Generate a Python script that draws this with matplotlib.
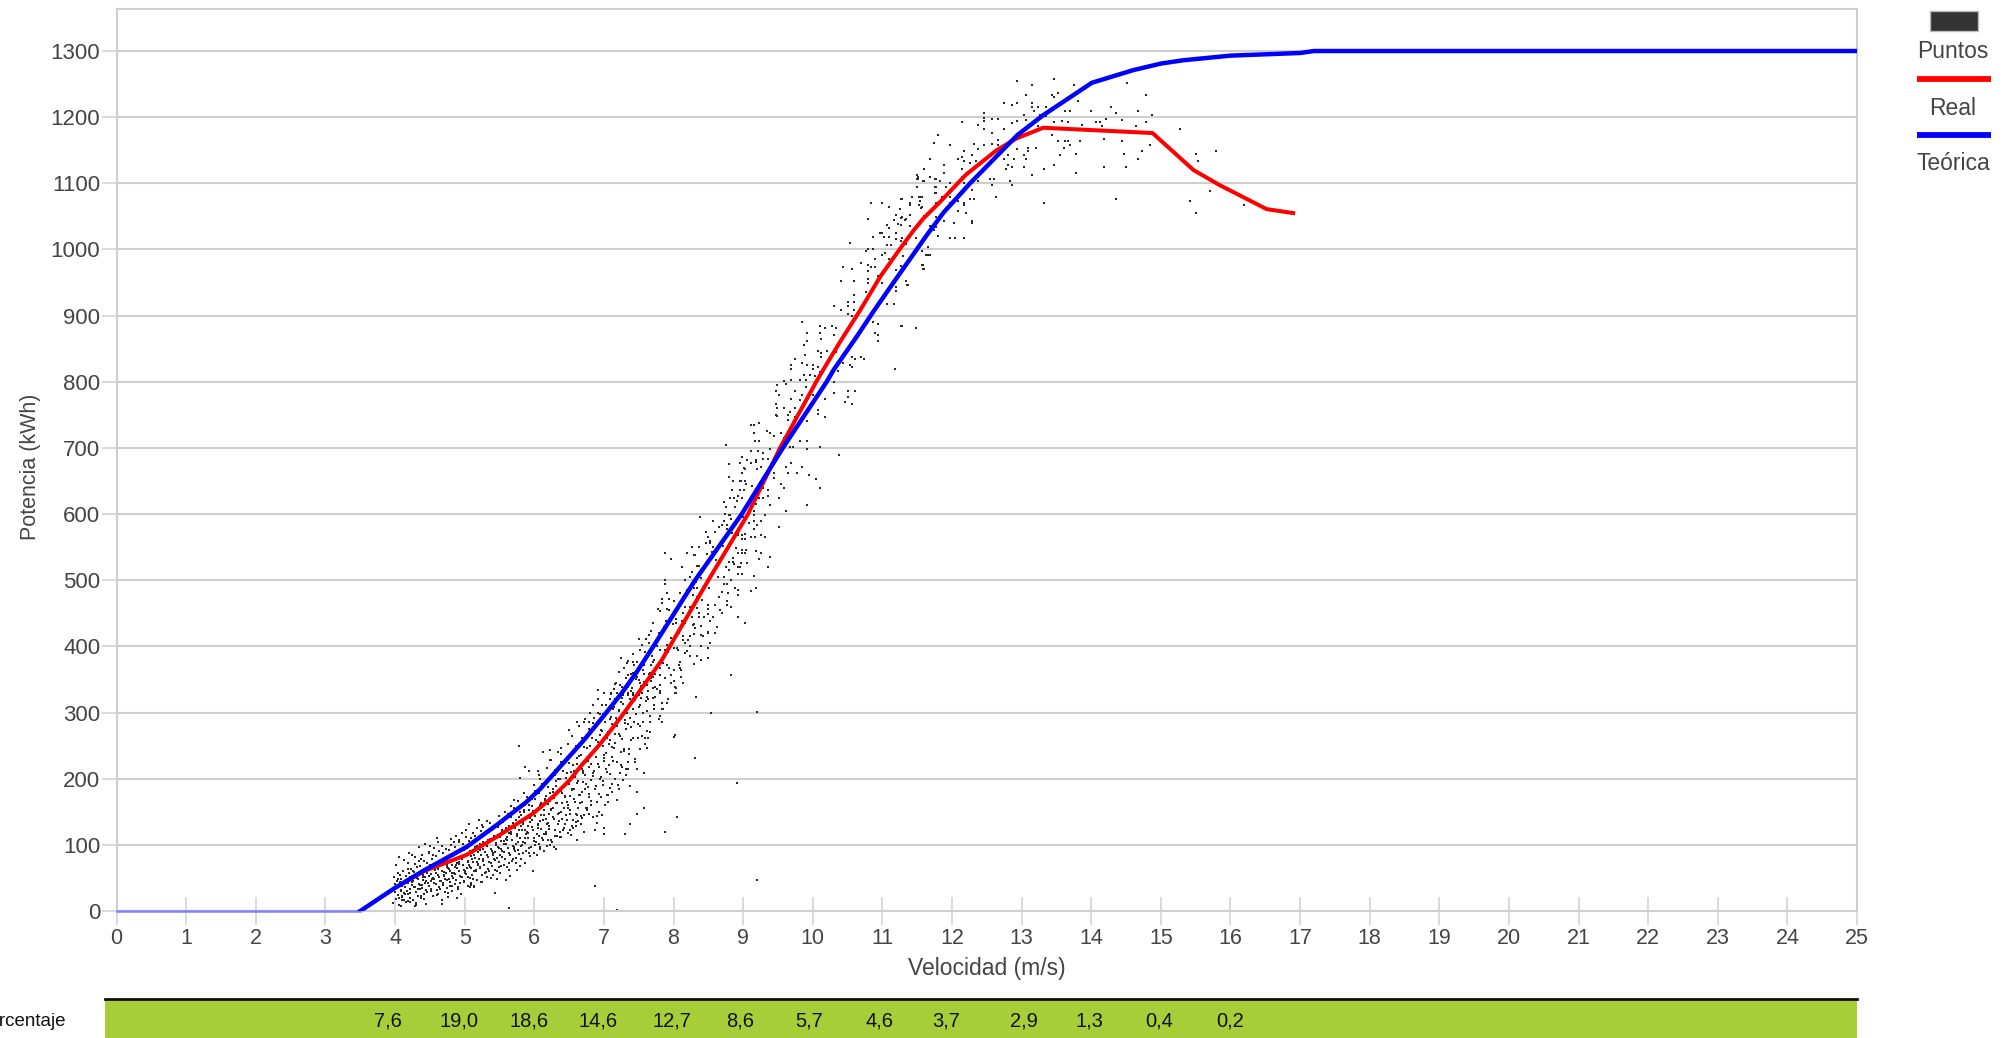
import matplotlib
matplotlib.use("Agg")
import matplotlib.pyplot as plt
from matplotlib.lines import Line2D
from matplotlib.patches import Rectangle

W, H = 2013, 1038
plt.rcParams['font.family'] = ['Liberation Sans', 'DejaVu Sans']
GRID = '#cfcfcf'
TXT = '#444444'

# curves
teorica_v = [3.5, 4.0, 4.41, 5.03, 5.46, 5.89, 6.08, 6.37, 6.71, 6.99, 7.26, 7.47, 7.71, 8.31, 8.98, 9.57, 10.2, 10.3, 10.63, 10.87, 11.16, 11.4, 11.64, 11.88, 12.26, 12.94, 13.31, 14.01, 14.6, 15, 15.32, 16, 17, 17.2, 25]
teorica_p = [0, 35, 61, 97, 130, 165, 184, 218, 258, 294, 330, 361, 400, 500, 600, 700, 800, 818, 868, 906, 950, 986, 1022, 1056, 1100, 1173, 1203, 1252, 1271, 1281, 1286, 1293, 1297, 1300, 1300]
calma_v = [0, 3.5]
calma_p = [0, 0]
real_v = [4.1, 4.41, 5.03, 5.46, 5.99, 6.27, 6.51, 6.66, 6.95, 7.23, 7.47, 7.66, 7.83, 8.5, 9.07, 9.53, 10.05, 10.15, 10.39, 10.68, 10.97, 11.26, 11.45, 11.59, 11.83, 12.2, 12.64, 12.93, 13.31, 14.88, 15.47, 15.85, 16.52, 16.9]
real_p = [41, 60, 85, 112, 148, 173, 198, 218, 253, 291, 326, 354, 379, 500, 600, 700, 800, 818, 860, 908, 959, 1002, 1029, 1047, 1072, 1113, 1150, 1168, 1184, 1176, 1120, 1097, 1061, 1055]

# bottom strip
porc_v = [3.9, 4.92, 5.92, 6.92, 7.98, 8.95, 9.95, 10.96, 11.92, 13.03, 13.97, 14.98, 16.0]
porc_txt = ['7,6', '19,0', '18,6', '14,6', '12,7', '8,6', '5,7', '4,6', '3,7', '2,9', '1,3', '0,4', '0,2']

# scatter: upper part of the cloud (velocity, power)
puntos_altos = [
(12.94,1255),(13.15,1249),(13.46,1258),(13.75,1249),(14.52,1251),(13.06,1234),(13.43,1234),(13.46,1231),(13.52,1236),(14.78,1234),
(13.81,1224),(12.74,1221),(12.86,1218),(12.94,1221),(13.15,1221),(13.15,1216),(13.18,1209),(13.23,1215),(13.35,1215),(13.63,1209),
(13.69,1209),(14.0,1209),(14.29,1215),(14.35,1207),(14.67,1209),(14.87,1203),(12.46,1207),(12.46,1198),(12.46,1194),(12.57,1197),
(12.66,1197),(12.14,1192),(12.37,1188),(12.46,1182),(12.74,1182),(12.86,1191),(12.94,1194),(13.03,1203),(13.06,1196),(13.26,1203),
(13.35,1201),(13.46,1192),(13.58,1194),(13.66,1192),(13.87,1188),(14.07,1192),(14.13,1192),(14.15,1187),(14.21,1197),(14.44,1196),
(14.64,1186),(14.78,1192),(13.23,1186),(13.07,1180),(13.43,1173),(13.52,1164),(13.63,1164),(13.66,1164),(13.84,1164),(14.18,1167),
(14.44,1164),(14.84,1158),(13.69,1158),(13.61,1154),(13.2,1154),(13.09,1154),(13.09,1149),(12.94,1152),(12.57,1176),(12.66,1166),
(12.66,1158),(12.57,1160),(12.46,1158),(12.31,1160),(12.37,1152),(12.17,1149),(11.97,1158),(11.8,1173),(11.74,1161),(11.68,1137),
(12.08,1137),(12.14,1140),(12.17,1133),(12.29,1143),(12.26,1130),(12.34,1134),(11.88,1128),(11.6,1122),(12.14,1122),(11.88,1115),
(11.51,1110),(11.51,1106),(11.68,1109),(11.77,1106),(11.83,1103),(11.6,1103),(11.97,1100),(12.14,1110),(12.37,1103),(12.54,1107),
(12.6,1106),(12.57,1097),(12.83,1103),(12.86,1097),(13.03,1143),(13.06,1137),(12.89,1137),(12.8,1143),(12.74,1137),(12.8,1128),
(12.77,1122),(12.86,1124),(13.03,1124),(13.15,1113),(13.32,1122),(13.46,1128),(13.55,1143),(13.78,1145),(13.78,1115),(14.18,1124),
(14.47,1145),(14.5,1124),(14.67,1137),(14.73,1149),(15.27,1182),(15.5,1145),(15.53,1134),(15.79,1149),(15.7,1088),(15.42,1073),
(15.5,1055),(16.19,1067),(13.32,1070),(14.35,1076),(12.63,1080),(12.31,1076),(12.26,1076),(12.17,1070),(12.17,1067),(12.08,1073),
(12.08,1058),(12.2,1055),(12.29,1043),(12.29,1040),(12.03,1040),(11.88,1043),(11.97,1018),(12.05,1018),(12.17,1018),(11.8,1021),
(11.74,1029),(11.68,1036),(11.77,1049),(11.57,1079),(11.54,1079),(11.42,1079),(11.28,1076),(11.39,1070),(11.39,1067),(11.54,1073),
(11.57,1064),(11.28,1049),(11.34,1046),(11.39,1052),(11.39,1036),(11.28,1018),(11.34,1009),(11.48,1018),(11.57,998),(11.65,1003),
(11.62,992),(11.68,992),(11.57,977),(11.6,970),(11.34,953),(11.37,946),(11.28,885),(11.48,882),(11.97,1080),(11.91,1094),
(11.77,1094),(11.77,1085),(11.85,1079),(11.77,1070),(11.97,1070),(12.17,1100),(12.29,1090),(12.31,1103),(11.6,1050),(11.88,1057),
(11.77,1034),
]

# scatter: flank between 830 and 1110 kWh
puntos_flanco = [
(11.5,1112),(11.5,1107),(11.59,1104),(11.68,1110),(11.76,1106),(11.5,1095),(11.76,1095),(11.76,1086),(11.42,1080),(11.27,1076),
(11.39,1070),(11.53,1079),(11.56,1080),(11.53,1067),(11.56,1062),(10.84,1070),(10.99,1070),(11.1,1064),(11.25,1061),(11.19,1052),
(11.27,1048),(11.33,1045),(11.39,1052),(10.79,1046),(11.16,1045),(11.22,1039),(11.07,1037),(11.1,1033),(11.27,1037),(10.96,1025),
(10.99,1025),(11.19,1025),(10.87,1019),(11.02,1019),(11.1,1019),(11.19,1016),(11.27,1013),(10.53,1010),(11.07,1007),(11.13,1007),
(10.79,1001),(10.76,998),(10.87,1001),(11.04,995),(10.99,991),(10.9,985),(11.1,986),(10.7,979),(10.79,976),(10.44,973),
(10.56,970),(10.84,973),(10.9,973),(10.79,967),(11.19,969),(11.3,990),(11.27,975),(11.59,976),(11.59,970),(11.65,991),
(11.68,991),(11.65,1003),(10.41,952),(10.59,952),(10.79,955),(10.79,949),(10.93,960),(10.99,949),(11.36,946),(11.19,943),
(10.59,931),(10.76,936),(11.19,937),(10.5,921),(10.59,921),(10.5,915),(10.3,915),(10.41,909),(10.59,909),(11.16,918),
(11.07,918),(10.5,903),(10.56,900),(9.84,891),(10.1,885),(10.18,882),(10.27,885),(10.33,882),(10.87,891),(10.93,888),
(11.27,885),(11.48,882),(9.92,873),(10.1,873),(10.3,870),(10.9,873),(10.93,870),(9.87,855),(9.92,861),(10.12,864),
(10.93,861),(10.07,846),(10.12,843),(10.21,846),(9.89,840),(10.12,837),(10.33,845),(9.75,834),(9.84,828),(9.92,825),
(10.01,825),(9.69,825),(9.69,819),(10.07,823),(10.53,825),(10.57,838),(10.61,834),(10.7,837),(10.73,834),
]

# scatter: middle part of the cloud
puntos_medios = [
(11.18,819),(9.69,825),(9.84,828),(9.92,825),(10.01,825),(9.69,819),(10.01,819),(10.44,828),(10.56,823),(9.87,810),
(9.96,810),(10.11,815),(10.03,808),(10.36,816),(9.58,801),(9.61,797),(9.69,803),(9.81,803),(9.9,803),(9.9,792),
(9.49,795),(9.47,786),(9.75,786),(9.52,780),(9.69,774),(9.81,773),(9.84,780),(10.01,780),(10.18,774),(10.3,800),
(10.3,783),(10.5,786),(10.61,786),(10.47,770),(10.56,767),(10.5,777),(9.47,767),(9.49,761),(9.58,761),(9.75,761),
(9.67,755),(9.81,757),(9.9,755),(10.07,758),(10.07,752),(10.18,746),(9.47,750),(9.49,748),(9.64,750),(9.75,747),
(9.64,742),(9.92,741),(9.23,737),(9.12,734),(9.16,734),(9.15,723),(9.34,725),(9.38,723),(9.44,718),(9.55,722),
(9.58,715),(9.81,711),(9.92,711),(9.17,711),(9.23,711),(8.75,704),(9.58,707),(9.67,701),(9.72,701),(9.92,698),
(10.1,701),(10.38,689),(9.22,695),(9.38,698),(9.29,692),(9.29,684),(9.36,684),(8.99,686),(9.06,682),(9.18,682),
(9.18,678),(9.12,677),(8.8,676),(9.61,671),(9.69,677),(9.84,671),(8.95,677),(9.03,668),(9.26,671),(9.78,662),
(9.64,662),(9.95,659),(10.04,653),(10.1,640),(8.8,656),(8.98,662),(8.86,650),(9.03,650),(8.95,650),(9.44,654),
(9.55,646),(9.58,640),(9.44,662),(8.84,637),(8.95,637),(9.01,636),(8.92,628),(8.98,625),(8.81,625),(9.29,640),
(9.36,637),(9.52,625),(9.35,628),(9.29,625),(9.23,625),(8.72,619),(8.75,611),(8.89,611),(9.92,613),(9.38,613),
(9.61,604),(9.32,598),(9.15,604),(9.15,598),(8.38,595),(8.8,598),(8.57,589),(8.72,589),(8.83,592),(8.77,583),
(8.69,583),(9.09,586),(9.26,589),(9.2,583),(9.52,580),(9.15,577),(8.46,573),(8.6,573),(9.26,568),(9.32,565),
(8.92,568),(8.98,568),(9.12,565),(8.49,565),(8.46,556),(8.52,556),(9.03,562),(8.98,562),(8.57,550),(8.26,550),
(8.37,550),(7.88,541),(8.2,541),(8.29,538),(8.31,538),(8.55,542),(8.92,541),(8.98,541),(9.03,541),(9.18,544),
(9.26,541),(7.97,532),(9.38,535),(8.86,533),(8.86,528),(9.23,532),(9.35,520),(8.97,526),(8.92,520),(9.06,526),
(8.12,520),(8.33,522),(8.26,513),(8.39,515),(8.79,516),(8.75,520),(8.92,510),(8.98,510),(9.15,507),(7.88,501),
(7.88,495),(8.17,501),(8.4,503),(8.72,495),(8.77,495),(8.89,488),(8.92,485),(8.92,477),(9.18,489),(9.12,483),
(7.91,480),(8.09,480),(8.29,488),(8.34,489),(7.83,471),(7.94,471),(8.0,468),(7.83,465),(8.14,474),(8.65,474),
(8.77,468),(8.77,462),(8.83,459),(7.77,456),(7.8,453),(7.91,456),(8.03,456),(8.23,459),(8.34,458),(8.5,462),
(8.5,456),(8.69,450),(8.92,444),(9.03,435),(7.97,445),(8.14,450),(8.26,445),(8.37,444),(8.49,449),(8.57,444),
(7.71,435),(7.86,430),(7.83,424),(8.03,435),(8.17,435),(8.29,434),(8.4,431),(8.63,429),(8.49,422),(8.6,420),
(7.51,411),(7.6,411),(7.65,417),(7.68,424),(8.23,415),(8.4,417),(8.29,419),(8.14,410),(8.43,415),(8.52,405),
(7.54,402),(8.17,405),(8.23,400),(7.52,394),(7.8,395),(7.91,402),(8.0,397),(8.06,394),(8.19,393),(8.49,397),
(8.49,383),(8.34,386),(8.4,380),(8.29,374),(7.25,383),(7.34,378),(7.42,377),(7.48,377),(7.71,377),(7.91,372),
(8.09,377),(8.09,368),(8.0,364),(7.81,367),(7.68,372),(7.58,372),(7.34,357),(8.83,356),(7.97,357),(8.11,353),
(7.8,357),(7.57,359),(7.42,354),(7.51,349),(7.71,354),(7.68,347),(8.14,344),(7.8,342),(7.6,342),(7.71,337),
(8.03,337),(8.03,329),(8.32,323),(7.4,337),(7.34,329),(7.42,326),(7.54,329),(7.62,323),(7.74,323),(7.8,332),
]

# scatter: isolated points under the curve
puntos_sueltos = [
(9.2,47),(8.91,193),(9.2,301),(8.54,299),(8.31,232),(8.05,142),(7.88,120),(8.02,266),(8.0,263),(6.87,38),(7.19,2),
(5.64,5),(5.43,27),(5.78,250),(4.6,111),(7.57,156),(7.48,147),(7.37,131),(7.3,117),(7.0,125),(7.0,117),(6.87,122),
(6.9,143),(6.78,147),(6.61,145),(6.68,140),(6.56,137),(6.51,122),(6.62,107),(6.39,112),(6.28,97),(6.2,107),(7.48,214),
(7.35,215),(7.26,217),(7.57,208),(7.22,184),(7.37,189),(7.19,168),(7.48,180),(4.06,19),(4.08,8),(4.1,16),(4.21,14),
(4.29,7),(4.44,11),(4.67,10),(4.89,19),(4.91,37),(5.07,36),(5.13,38),(5.25,44),(5.6,47),(5.63,62),(5.75,62),
(5.93,87),(6.08,97),(5.87,217),(5.93,212),(6.05,212),(5.79,201),(6.08,200),(6.22,243),(6.13,241),(6.23,228),(6.39,246),
(6.39,238),(6.5,273),(6.62,286),(6.71,286),(6.78,286),(6.92,334),(7.0,329),(6.85,311),(6.92,299),(7.16,321),(7.28,326),
(7.83,314),(7.9,314),(7.83,306),(8.02,329),(8.02,338),(7.8,295),(7.83,286),(7.66,271),(7.64,262),(7.62,246),
]

# scatter: dense band, velocity columns and the powers read in each one
banda_v = [4.0, 4.05, 4.1, 4.15, 4.2, 4.25, 4.3, 4.35, 4.4, 4.45, 4.5, 4.55, 4.6, 4.65, 4.7, 4.75, 4.8, 4.85, 4.9, 4.95,
           5.0, 5.05, 5.1, 5.15, 5.2, 5.25, 5.3, 5.35, 5.4, 5.45, 5.5, 5.55, 5.6, 5.65, 5.7, 5.75, 5.8, 5.85, 5.9, 5.95,
           6.0, 6.05, 6.1, 6.15, 6.2, 6.25, 6.3, 6.35, 6.4, 6.45, 6.5, 6.55, 6.6, 6.65, 6.7, 6.75, 6.8, 6.85, 6.9, 6.95,
           7.0, 7.05, 7.1, 7.15, 7.2, 7.25, 7.3, 7.35, 7.4, 7.45, 7.5, 7.55, 7.6, 7.65, 7.7, 7.75, 7.85, 7.95,
           8.05, 8.15, 8.25, 8.35, 8.45, 8.55, 8.65, 8.75, 8.85, 8.95, 9.05, 9.15]
banda_p = [
[12,18,24,29,33,37,41,46,52],[22,35,44,58,69,82,30,48],
[9,16,21,27,31,36,40,44,49,55,61],[15,26,38,47,53,63,77,88],
[14,19,25,30,34,39,42,47,51,57,64,72],[12,27,36,44,52,60,71,85],
[17,23,28,33,37,41,45,50,54,59,66,75,81],[9,22,33,40,49,55,67,79,96],
[20,26,31,35,39,43,47,52,56,61,68,76,84],[18,29,38,46,51,64,73,89,102],
[22,28,34,38,42,46,50,53,58,63,70,78,87],[24,30,43,48,56,65,72,85,98],
[25,32,37,41,45,49,54,58,62,67,74,83,95],[16,34,42,51,59,64,77,90,104],
[29,35,40,45,49,53,57,61,66,72,79,88,99],[21,38,47,55,63,70,81,94,109],
[27,38,44,48,53,57,61,65,70,76,83,92,104],[30,41,50,58,67,73,84,100,114],
[33,42,47,52,56,60,65,69,74,80,87,96,108],[26,44,53,62,71,78,89,105,118],
[38,46,51,56,61,65,70,74,79,85,92,101,112],[40,52,58,67,76,83,95,110,122,132],
[43,50,55,60,65,69,74,79,84,90,97,106,118],[36,49,62,71,80,87,99,113,126],
[47,54,60,65,70,74,79,84,89,95,102,111,121],[44,57,66,76,85,92,104,118,130,137],
[52,59,64,69,74,79,84,89,94,100,107,117,127],[50,61,72,81,91,98,109,123,136],
[54,62,68,74,79,84,89,94,100,106,113,122,133],[48,66,77,87,97,103,115,130,143],
[61,68,74,80,85,90,95,100,106,112,119,127,139],[58,70,82,93,101,109,122,136,150],
[66,72,79,84,89,95,101,106,112,118,125,134,146],[53,75,88,99,107,116,128,143,158],
[72,78,84,90,96,102,108,114,120,126,133,142,155],[68,80,94,104,113,123,137,150,168],
[78,86,92,98,104,110,116,122,128,135,142,152,166],[73,88,100,111,120,131,145,160,178],
[83,90,97,103,110,116,122,129,135,142,150,160,172],[60,95,106,118,127,140,153,170,190],
[88,96,104,110,117,123,130,137,144,151,159,169,182],[85,100,113,126,136,149,163,182,205],
[93,102,110,117,124,131,138,145,152,160,168,178,192],[90,107,120,133,145,158,174,195,216],
[99,108,116,124,131,139,146,153,161,169,178,188,204],[100,114,128,142,154,167,185,206,228],
[105,114,123,131,139,147,155,163,171,180,189,200,213],[94,120,136,150,164,178,196,218,240],
[112,122,131,139,148,156,164,173,181,190,199,211,225],[125,145,160,174,189,208,230,252],
[118,128,138,147,156,165,174,183,192,201,210,223,238],[115,135,152,170,185,200,220,244,265],
[125,136,146,156,165,175,184,194,203,212,222,235,249],[128,143,163,180,196,212,232,256,280],
[132,145,155,165,175,185,195,205,215,225,236,248,262],[120,152,172,192,209,226,246,270,290],
[142,155,166,177,188,198,208,218,229,239,250,262,275],[133,160,184,204,222,240,258,284,300],
[150,165,177,189,200,211,222,233,244,255,266,278,292],[145,172,196,218,236,256,272,298,320],
[160,176,190,203,215,227,239,250,262,273,285,298,312],[165,186,210,232,252,270,290,312,330],
[175,192,207,220,233,246,258,270,282,294,306,320,335],[180,200,226,248,268,288,308,328,345],
[190,208,225,240,254,267,279,291,303,316,329,343],[198,220,242,264,284,304,322,342,362],
[205,225,245,260,275,288,300,313,326,339,352,368],[215,238,258,282,300,320,338,358,375],
[225,245,262,278,292,306,319,332,346,360],[230,262,285,308,330,350,372,388],
[245,265,282,298,312,326,340,354],[252,280,300,322,345,365,392],
[262,285,302,318,332,346,358],[272,295,320,342,360,385,405],
[285,305,322,338,352],[290,312,335,358,380,400,420],
[305,330,352,375,395,418,438],[320,345,368,392,412,434,455],
[348,372,398,420,442,465],[365,390,415,438,460,485],[385,410,432,455,478,505],[400,428,450,475,498,522],
[420,445,470,492,518,540],[438,462,488,510,535,560],[455,482,505,530,555,580],[480,505,528,552,578,600],
[500,525,548,572,598,625],[520,545,570,595,620,650],[545,570,595,620,645,670],[565,590,615,642,668,695],
]
# small sideways spread read inside each column
banda_desvio = [-0.03, 0.012, 0.041, -0.008, -0.044, 0.023, 0.002, 0.034, -0.019, 0.047, -0.036, 0.016, -0.013]

x_ticks = list(range(0, 26))
y_ticks = list(range(0, 1301, 100))

fig = plt.figure(figsize=(W / 100, H / 100), dpi=100, facecolor='white')

def px_axes(x0, y0, x1, y1):
    return fig.add_axes([x0 / W, 1 - y1 / H, (x1 - x0) / W, (y1 - y0) / H])

ax = px_axes(116.6, 9, 1857, 911)
ax.set_xlim(0, 25)
ax.set_ylim(0, 1363.5)
ax.set_axisbelow(True)
ax.yaxis.grid(True, color=GRID, lw=1.5)
ax.xaxis.grid(False)
for s in ax.spines.values():
    s.set_color(GRID)
    s.set_linewidth(1.5)
ax.set_xticks(x_ticks)
ax.set_yticks(y_ticks)
ax.tick_params(axis='x', direction='inout', length=20, width=1.1, color=GRID, labelcolor=TXT, labelsize=15.5, pad=2)
ax.tick_params(axis='y', direction='out', length=10.8, width=1.1, color=GRID, labelcolor=TXT, labelsize=16, pad=1)

todos = puntos_altos + puntos_flanco + puntos_medios + puntos_sueltos
sx = [p[0] for p in todos]
sy = [p[1] for p in todos]
i = 0
for v, col in zip(banda_v, banda_p):
    for val in col:
        sx.append(v + banda_desvio[i % len(banda_desvio)])
        sy.append(val)
        i += 1
ax.plot(sx, sy, ls='none', marker='s', ms=2.0, mew=0, color='#2a2a2a', zorder=2, clip_on=False)
ax.plot(calma_v, calma_p, color='#8080ff', lw=1.8, zorder=3, clip_on=False)
ax.plot(real_v, real_p, color='#ff0000', lw=2.9, zorder=4, solid_joinstyle='round')
ax.plot(teorica_v, teorica_p, color='#0000ff', lw=3.2, zorder=5, solid_joinstyle='round')

fig.text(31 / W, 1 - 467 / H, 'Potencia (kWh)', rotation=90, ha='center', va='center', color=TXT, fontsize=15.5)
fig.text(987 / W, 1 - 968 / H, 'Velocidad (m/s)', ha='center', va='center', color=TXT, fontsize=16.5)

# legend, stacked mark above label
fig.add_artist(Rectangle((1930 / W, 1 - 31 / H), 48 / W, 20 / H, transform=fig.transFigure,
                         facecolor='#333333', edgecolor='#bbbbbb', lw=1))
fig.add_artist(Line2D([1917 / W, 1991 / W], [1 - 79 / H] * 2, color='#ff0000', lw=4.2, solid_capstyle='butt'))
fig.add_artist(Line2D([1917 / W, 1991 / W], [1 - 135 / H] * 2, color='#0000ff', lw=4.2, solid_capstyle='butt'))
for label, yy in [('Puntos', 52), ('Real', 108), ('Teórica', 164)]:
    fig.text(1953 / W, 1 - yy / H, label, ha='center', va='center', color=TXT, fontsize=16.5)

# percentage strip
ax2 = px_axes(105, 999, 1857, 1038)
ax2.set_xlim((105 - 116.6) / 69.62, 25)
ax2.set_ylim(0, 1)
ax2.set_facecolor('#a6ce39')
ax2.set_xticks([])
ax2.set_yticks([])
for n, s in ax2.spines.items():
    s.set_visible(n == 'top')
ax2.spines['top'].set_color('#111111')
ax2.spines['top'].set_linewidth(2)
for v, t in zip(porc_v, porc_txt):
    ax2.text(v, 0.44, t, ha='center', va='center', color='#111111', fontsize=14.5)
fig.text(66 / W, 1 - 1021 / H, 'Porcentaje', ha='right', va='center', color='#111111', fontsize=13.5)

fig.savefig('out.png', dpi=100)
